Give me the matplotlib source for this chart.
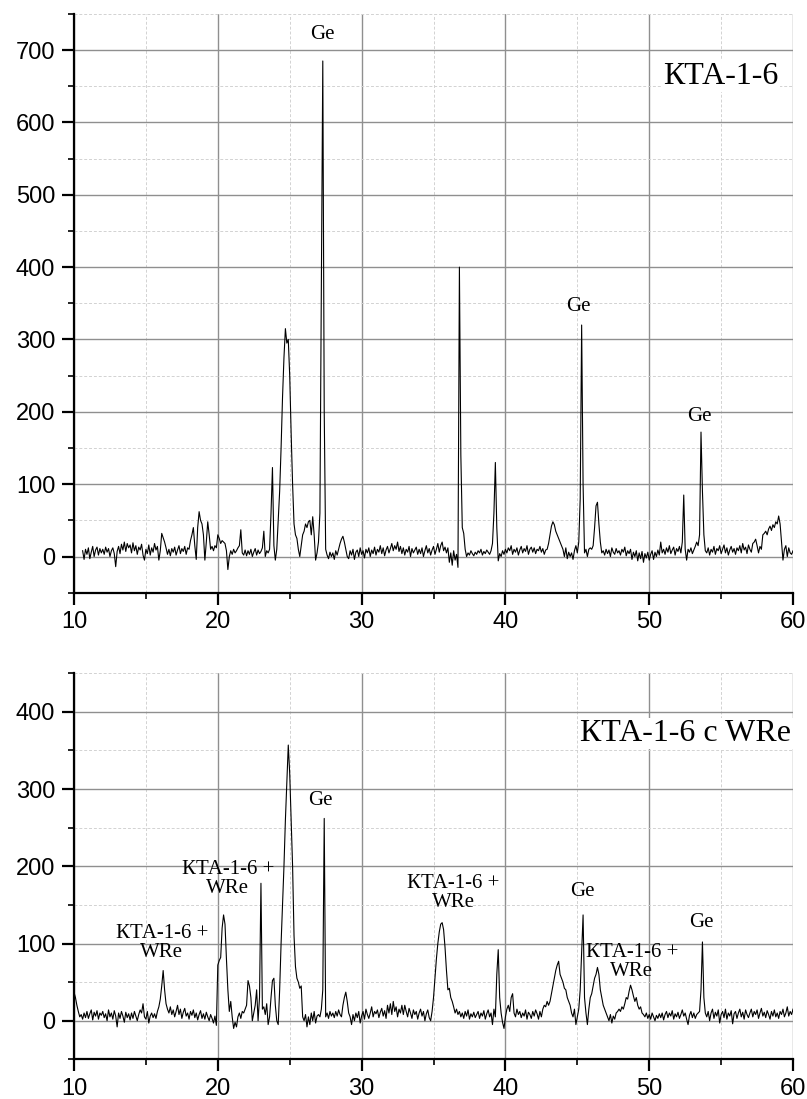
import numpy as np
import matplotlib
matplotlib.use("Agg")
import matplotlib.pyplot as plt
from matplotlib.ticker import MultipleLocator

plt.rcParams['font.family'] = ['Liberation Sans', 'DejaVu Sans']

# XRD patterns, sampled every 0.1 deg 2theta (rows = one degree each)
step = 0.1

top_start = 10.6
top_counts = [
    8, -4, 10, 3,
    12, -3, 6, 14, 0, 9, 13, 2, 11, 5,
    10, 3, 13, 6, 11, 0, 8, 12, 4, -14,
    7, 14, 4, 17, 9, 20, 7, 18, 12, 16,
    5, 19, 8, 15, 3, 13, 9, 17, 2, -5,
    10, 4, 16, 2, 12, 6, 18, 9, 14, -5,
    8, 32, 26, 20, 12, 3, 10, 1, 11, 6,
    13, 2, 9, 15, 4, 11, 7, 14, 3, 12,
    10, 22, 30, 40, 15, -4, 40, 62, 50, 45,
    30, -5, 20, 48, 30, 10, 14, 8, 15, 12,
    30, 25, 18, 22, 20, 18, 8, -18, 0, 8,
    3, 10, 5, 8, 12, 15, 37, 5, 2, 9,
    1, 8, 3, 10, 0, 6, 11, 2, 9, 4,
    7, 12, 35, 0, 8, 5, 10, 60, 123, 15,
    -5, 10, 50, 90, 150, 220, 275, 315, 295, 300,
    250, 170, 100, 45, 30, 25, 10, 0, 15, 30,
    35, 45, 40, 48, 50, 30, 55, 30, -5, 5,
    20, 60, 380, 685, 200, 10, 2, -3, 6, 0,
    5, -4, 8, 2, 10, 18, 24, 28, 20, 10,
    0, -3, 8, 2, 10, -4, 6, 9, 0, 12,
    3, 8, -2, 10, 5, 12, 0, 9, 4, 13,
    2, 10, 6, 15, 4, 12, 1, 9, 14, 5,
    11, 18, 8, 15, 10, 20, 7, 14, 4, 12,
    2, 10, 6, 14, 0, 11, 5, 9, 13, 3,
    10, 4, 12, 0, 8, 15, 5, 11, 2, 9,
    14, 3, 10, 18, 6, 15, 20, 8, 13, 5,
    12, -8, 5, -12, 8, -5, 3, -15, 400, 140,
    40, 32, 10, 0, 5, 2, 8, 4, 1, 6,
    3, 8, 5, 10, 2, 7, 4, 9, 6, 3,
    8, 18, 60, 130, 40, -6, 4, 0, 8, 3,
    10, 5, 12, 8, 15, 3, 10, 6, 12, 2,
    9, 14, 5, 11, 7, 15, 3, 10, 13, 6,
    12, 4, 10, 8, 14, 6, 11, 3, 9, 10,
    18, 30, 42, 48, 44, 35, 30, 25, 20, 15,
    10, 0, 12, -3, 6, 0, 5, -4, 8, 15,
    5, 20, 80, 320, 100, 5, 10, 0, 10, 12,
    10, 15, 40, 70, 75, 45, 20, 5, 8, 2,
    10, 4, 9, 0, 12, 6, 3, 11, 5, 8,
    2, 10, 6, 13, 1, 8, 4, 10, -4, 6,
    0, 8, -6, 5, -3, 7, -8, 4, -2, 6,
    -5, 3, 8, -4, 6, 0, 9, 2, 20, 5,
    10, 3, 12, 6, 15, 4, 9, 13, 2, 11,
    7, 14, 5, 20, 85, 10, -5, 10, 6, 12,
    4, 9, 14, 20, 15, 30, 172, 90, 30, 8,
    5, 12, 2, 10, 6, 14, 3, 11, 8, 15,
    4, 10, 16, 5, 12, 2, 9, 14, 6, 11,
    3, 12, 8, 15, 5, 18, 9, 13, 4, 16,
    10, 6, 18, 20, 24, 15, 5, 14, 10, 30,
    32, 35, 30, 38, 42, 36, 44, 40, 48, 45,
    56, 45, 20, -5, 10, 15, 0, 12, 5, 3,
    8,
]

bot_start = 10.0
bot_counts = [
    37, 30, 20, 12, 5, 8, 2, 10, 4, 12,
    3, 9, 14, 1, 11, 6, 13, 2, 10, 7,
    12, 4, 9, 0, 14, 5, 10, 2, 13, 6,
    -8, 10, 3, 12, 6, -2, 11, 4, 9, 1,
    10, 3, 12, 6, 0, 8, 14, 10, 22, 5,
    2, 12, -3, 6, 10, 4, 9, 3, 12, 18,
    28, 45, 65, 40, 22, 15, 10, 18, 8, 14,
    5, 12, 20, 8, 15, 3, 11, 16, 6, 10,
    2, 12, 7, 14, 4, 10, 1, 8, 13, 3,
    9, 2, 11, 5, 0, 8, 3, -3, 6, -6,
    72, 78, 82, 120, 137, 125, 80, 40, 12, 25,
    5, -10, -2, -8, 5, 10, 3, 12, 10, 15,
    20, 52, 45, 30, 0, 10, 20, 40, 0, 30,
    178, 15, 18, 8, 22, -5, 5, 30, 52, 55,
    20, 0, -5, 40, 100, 150, 200, 260, 310, 357,
    320, 260, 200, 110, 70, 55, 50, 42, 45, 5,
    0, 8, -8, 5, -5, 10, 0, 12, -3, 6,
    8, 5, 15, 40, 262, 5, 10, 3, 12, 6,
    10, 4, 12, 6, 14, 8, 5, 20, 30, 37,
    25, 10, 5, -5, 8, 0, 10, 4, 12, -3,
    6, 12, 2, 15, 8, 3, 10, 18, 5, 12,
    9, 14, 4, 11, 16, 6, 13, 3, 20, 10,
    22, 8, 25, 12, 18, 5, 15, 10, 20, 8,
    20, 12, 5, 16, 10, 3, 14, 8, 12, 2,
    10, 15, 6, 12, 0, 9, 14, 4, 0, 12,
    30, 55, 80, 100, 115, 125, 127, 118, 95, 65,
    40, 42, 30, 25, 18, 10, 15, 8, 12, 5,
    10, 3, 12, 6, 14, 2, 9, 5, 11, 4,
    8, 12, 3, 10, 6, 13, 2, 9, 14, 5,
    10, -5, 15, 5, 60, 92, 30, 10, -2, -10,
    5, 15, 20, 12, 30, 35, 10, 5, 15, 8,
    12, 4, 10, 6, 14, 2, 11, 8, 3, 12,
    6, 14, 9, 2, 12, 5, 15, 20, 18, 25,
    20, 25, 35, 45, 55, 65, 72, 77, 60, 55,
    50, 42, 40, 30, 25, 20, 10, 5, 15, -5,
    5, 15, 40, 90, 137, 30, 10, -5, 15, 30,
    35, 45, 55, 60, 69, 60, 40, 30, 20, 15,
    10, 5, 0, 8, -3, 6, 2, 10, 12, 15,
    12, 18, 15, 22, 30, 28, 38, 46, 40, 32,
    25, 30, 20, 15, 18, 10, 8, 5, 10, 3,
    8, 2, 10, 5, 0, 7, 3, 9, 4, 10,
    1, 8, 12, 4, 10, 6, 13, 2, 9, 5,
    11, 3, 8, 14, 6, 10, 2, -5, 7, 12,
    4, 10, 3, 8, 10, 12, 40, 102, 30, 10,
    5, 12, 0, 10, 15, 3, 11, 6, 14, -3,
    8, 12, 4, 15, 2, 10, 6, 13, -4, 9,
    12, 3, 10, 15, 5, 11, 2, 14, 8, 4,
    10, 15, 5, 12, 8, 14, 3, 10, 16, 6,
    11, 4, 13, 8, 2, 12, 6, 14, 5, 10,
    3, 12, 8, 15, 5, 10, 18, 6, 12, 8,
    15,
]

# annotations: (text, x, y)
top_labels = [("Ge", 27.3, 721), ("Ge", 45.1, 346), ("Ge", 53.5, 194)]
bot_labels = [("КТА-1-6 +\nWRe", 16.1, 101), ("КТА-1-6 +\nWRe", 20.7, 184),
              ("Ge", 27.15, 285), ("КТА-1-6 +\nWRe", 36.4, 166),
              ("Ge", 45.35, 167), ("КТА-1-6 +\nWRe", 48.8, 76),
              ("Ge", 53.6, 127)]
top_title = "КТА-1-6"
bot_title = "КТА-1-6 с WRe"

serif = ['Liberation Serif', 'DejaVu Serif']


def style_axis(ax, ymin, ymax):
    ax.set_xlim(10, 60)
    ax.set_ylim(ymin, ymax)
    ax.xaxis.set_major_locator(MultipleLocator(10))
    ax.xaxis.set_minor_locator(MultipleLocator(5))
    ax.yaxis.set_major_locator(MultipleLocator(100))
    ax.yaxis.set_minor_locator(MultipleLocator(50))
    ax.grid(which='major', color='#8f8f8f', lw=1.0, ls='-')
    ax.grid(which='minor', color='#d2d2d2', lw=0.7, ls=(0, (3, 2)))
    ax.set_axisbelow(True)
    for s in ['top', 'right']:
        ax.spines[s].set_visible(False)
    for s in ['left', 'bottom']:
        ax.spines[s].set_linewidth(1.6)
    ax.tick_params(which='major', direction='out', length=8.5, width=1.6,
                   labelsize=17, pad=5)
    ax.tick_params(which='minor', direction='out', length=4.5, width=1.2)


fig = plt.figure(figsize=(8.07, 10.99), dpi=100)
ax1 = fig.add_axes([0.0917, 0.4607, 0.891, 0.5266])
ax2 = fig.add_axes([0.0917, 0.0361, 0.891, 0.3513])

x_top = top_start + step * np.arange(len(top_counts))
x_bot = bot_start + step * np.arange(len(bot_counts))

ax1.plot(x_top, top_counts, color='black', lw=0.8)
ax2.plot(x_bot, bot_counts, color='black', lw=0.8)

style_axis(ax1, -50, 750)
style_axis(ax2, -50, 450)

for txt, x, y in top_labels:
    ax1.text(x, y, txt, ha='center', va='center', fontsize=15, family=serif)
for txt, x, y in bot_labels:
    ax2.text(x, y, txt, ha='center', va='center', fontsize=15, family=serif,
             linespacing=1.0)

ax1.text(55.0, 664, top_title, ha='center', va='center', fontsize=23,
         family=serif, bbox=dict(facecolor='white', edgecolor='none', pad=1))
ax2.text(52.55, 372, bot_title, ha='center', va='center', fontsize=23,
         family=serif, bbox=dict(facecolor='white', edgecolor='none', pad=1))

plt.savefig("out.png", dpi=100)
